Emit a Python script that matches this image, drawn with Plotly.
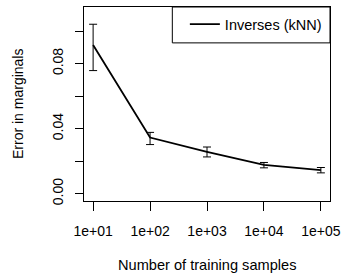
import plotly.graph_objects as go

samples = [10, 100, 1000, 10000, 100000]
error = [0.0914, 0.0345, 0.0257, 0.0177, 0.0145]
err_upper = [0.1042, 0.0377, 0.0287, 0.0192, 0.0161]
err_lower = [0.0757, 0.0302, 0.0226, 0.0159, 0.0128]
x_tick_vals = [10, 100, 1000, 10000, 100000]
x_tick_text = ["1e+01", "1e+02", "1e+03", "1e+04", "1e+05"]
y_tick_vals = [0.0, 0.02, 0.04, 0.06, 0.08, 0.10]
y_tick_text = ["0.00", "", "0.04", "", "0.08", ""]

plus = [u - v for u, v in zip(err_upper, error)]
minus = [v - l for v, l in zip(error, err_lower)]

FONT = "Liberation Sans, Arial, Helvetica, sans-serif"

fig = go.Figure()
fig.add_trace(go.Scatter(
    x=samples, y=error, mode="lines", name="Inverses (kNN)",
    line=dict(color="black", width=1.8),
    error_y=dict(type="data", array=plus, arrayminus=minus, symmetric=False,
                 color="black", thickness=1, width=4),
))

fig.update_layout(
    width=347, height=276,
    margin=dict(l=84, r=14, t=6, b=75),
    paper_bgcolor="white", plot_bgcolor="white",
    font=dict(family=FONT, size=14, color="black"),
    showlegend=True,
    legend=dict(x=0.41, xanchor="left", y=0.911, yanchor="middle",
                bgcolor="rgba(0,0,0,0)", borderwidth=0,
                font=dict(size=14.5)),
    xaxis=dict(type="log", range=[0.84, 5.16], tickvals=x_tick_vals, ticktext=x_tick_text,
               ticks="outside", ticklen=9, tickcolor="black", tickwidth=1,
               showline=True, linecolor="black", linewidth=1, mirror=True,
               showgrid=False, zeroline=False, ticklabelstandoff=8),
    yaxis=dict(range=[-0.0045, 0.1148], tickvals=y_tick_vals, ticktext=y_tick_text,
               tickangle=-90,
               ticks="outside", ticklen=8, tickcolor="black", tickwidth=1,
               showline=True, linecolor="black", linewidth=1, mirror=True,
               showgrid=False, zeroline=False, ticklabelstandoff=6),
    shapes=[dict(type="rect", xref="paper", yref="paper", x0=0.359, x1=1.0, y0=0.815, y1=1.0,
                 line=dict(color="black", width=1), fillcolor="rgba(0,0,0,0)")],
    annotations=[
        dict(text="Number of training samples", xref="paper", yref="paper", x=0.5, y=0,
             xanchor="center", yanchor="middle", yshift=-64, showarrow=False,
             font=dict(size=14.6)),
        dict(text="Error in marginals", xref="paper", yref="paper", x=0, y=0.5,
             xanchor="center", yanchor="middle", xshift=-66, textangle=-90, showarrow=False,
             font=dict(size=14)),
    ],
)

fig.write_html("out.html", config={"displayModeBar": False},
               post_script="document.body.style.margin='0px';document.body.style.overflow='hidden';")
